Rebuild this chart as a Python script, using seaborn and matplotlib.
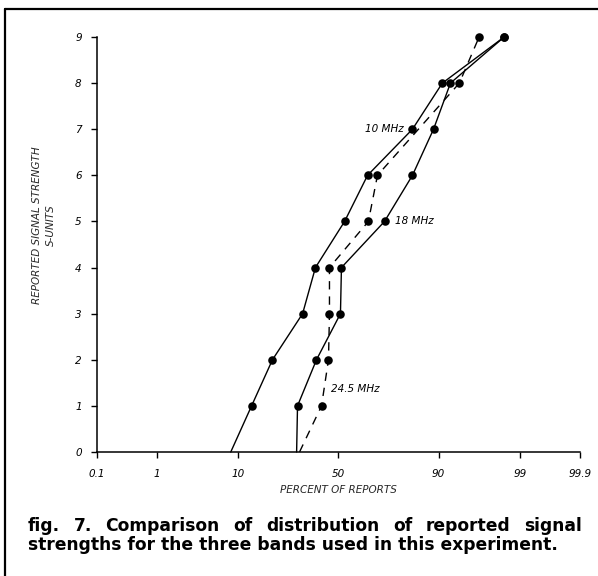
import math
import numpy as np
import pandas as pd
import matplotlib
matplotlib.use("Agg")
import matplotlib.pyplot as plt
import seaborn as sns
from matplotlib.lines import Line2D

# DATA (cumulative percent of reports at each S-unit)
s_units = [0, 1, 2, 3, 4, 5, 6, 7, 8, 9]
pct_10mhz = [8.4, 13.3, 19.9, 32.3, 38.4, 53.1, 64.5, 82.8, 90.8, 98.3]
pct_18mhz = [29.6, 30.0, 38.9, 51.0, 51.5, 72.2, 82.8, 88.8, 92.4, 98.3]
s_units_24 = [0, 1, 2, 3, 4, 5, 6, 8, 9]
pct_24mhz = [30.9, 41.4, 44.9, 45.4, 45.4, 64.9, 69.1, 93.9, 96.4]

x_ticks = [0.1, 1, 10, 50, 90, 99, 99.9]
x_ticklabels = ["0.1", "1", "10", "50", "90", "99", "99.9"]
y_ticks = list(range(10))

caption_1 = "fig. 7. Comparison of distribution of reported signal"
caption_2 = "strengths for the three bands used in this experiment."

# normal probability scale for the x axis
z_grid = np.linspace(-5, 5, 4001)
p_grid = np.array([50 * (1 + math.erf(z / math.sqrt(2))) for z in z_grid])

def to_z(p):
    return np.interp(p, p_grid, z_grid)

def to_p(z):
    return np.interp(z, z_grid, p_grid)

sns.set_style("ticks")
plt.rcParams["font.family"] = ["DejaVu Sans"]

W, H = 598, 576
fig = plt.figure(figsize=(W / 100, H / 100), dpi=100)
ax = fig.add_axes([97 / W, 1 - 452 / H, 483 / W, 415 / H])
ax.set_xscale("function", functions=(to_z, to_p))

bands = [
    ("10 MHz", s_units, pct_10mhz, "-"),
    ("18 MHz", s_units, pct_18mhz, "-"),
    ("24.5 MHz", s_units_24, pct_24mhz, (0, (6, 5))),
]
for name, s, pct, ls in bands:
    df = pd.DataFrame({"pct": pct, "s": s})
    sns.lineplot(data=df, x="pct", y="s", sort=False, estimator=None,
                 color="black", linewidth=1.0, linestyle=ls, ax=ax,
                 clip_on=False)
    pts = df[df["s"] >= 1]
    sns.scatterplot(data=pts, x="pct", y="s", color="black", s=38,
                    linewidth=0, ax=ax, zorder=3, clip_on=False)

# band labels
lab_font = dict(fontsize=7.5, fontstyle="italic", color="black", va="center")
ax.text(81, 7, "10 MHz ", ha="right", **lab_font)
ax.text(76.5, 5, "18 MHz", ha="left", **lab_font)
ax.text(46, 1.37, "24.5 MHz", ha="left", **lab_font)

ax.set_xlim(0.1, 99.9)
ax.set_ylim(0, 9)
ax.set_xticks(x_ticks)
ax.set_xticklabels(x_ticklabels)
ax.set_yticks(y_ticks)
ax.minorticks_off()
for lbl in ax.get_xticklabels() + ax.get_yticklabels():
    lbl.set_fontstyle("italic")
ax.tick_params(axis="both", direction="out", length=4, width=1,
               labelsize=7.5, colors="black")
ax.tick_params(axis="x", pad=8)
ax.tick_params(axis="y", pad=7)
sns.despine(ax=ax)
for sp in ["left", "bottom"]:
    ax.spines[sp].set_linewidth(1.1)
    ax.spines[sp].set_color("black")

ax.set_xlabel("PERCENT OF REPORTS", fontsize=7.5, fontstyle="italic")
ax.xaxis.set_label_coords(0.5, (452 - 485) / 415)
ax.set_ylabel("")
fig.text(44 / W, 1 - 225 / H, "REPORTED SIGNAL STRENGTH\nS-UNITS",
         rotation=90, ha="center", va="center", multialignment="center",
         fontsize=7.5, fontstyle="italic", linespacing=1.6)

# border of the printed figure
fig.add_artist(Line2D([5 / W, 1], [1 - 9 / H] * 2, color="black", lw=1.6))
fig.add_artist(Line2D([5 / W] * 2, [0, 1 - 9 / H], color="black", lw=1.6))

# caption, first line justified
cap_font = dict(fontsize=12.3, fontweight="bold", va="baseline", color="black")
fig.canvas.draw()
renderer = fig.canvas.get_renderer()
words = caption_1.split()
artists = [fig.text(0, 1 - 531 / H, w, **cap_font) for w in words]
widths = [a.get_window_extent(renderer).width for a in artists]
gap = (582 - 28 - sum(widths)) / (len(words) - 1)
x = 28
for a, w in zip(artists, widths):
    a.set_x(x / W)
    x += w + gap
fig.text(28 / W, 1 - 550 / H, caption_2, **cap_font)

fig.savefig("out.png", dpi=100)
